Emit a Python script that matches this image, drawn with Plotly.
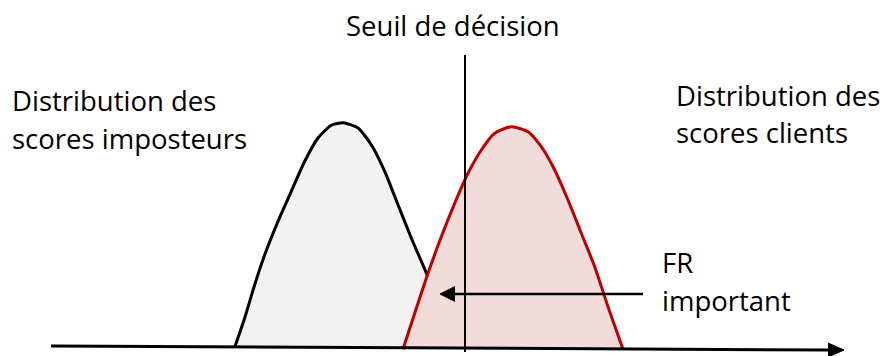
import plotly.graph_objects as go

# --- diagram data (pixel space of the 888x356 picture, y downwards) ---
imposteurs_x = [234.7, 244.7, 254.7, 264.7, 278, 291.3, 304.7, 318, 331.3, 343,
                358, 371.3, 384.7, 398, 411.3, 426.3, 438, 449.7]
imposteurs_y = [347.3, 318, 284.7, 254.7, 221.3, 191.3, 161.3, 138, 125.3, 122.7,
                128, 144.7, 171.3, 204.7, 238, 273, 305, 347]

clients_x = [403, 414.7, 428, 441.3, 454.7, 468, 481.3, 494.7, 511.3, 528,
             541.3, 554.7, 568, 581.3, 594.7, 608, 623]
clients_y = [349.3, 313.3, 273.3, 236.7, 203.3, 173.3, 150, 133.3, 126.7, 131.7,
             146.7, 170, 200, 233.3, 266.7, 306.7, 349.3]

axis_x = [51, 830]
axis_y = [346, 350]
axis_head_x = [828, 844, 828]
axis_head_y = [343, 350, 357]

seuil_x = [465, 465]
seuil_y = [55, 352]

fr_x = [643, 452]
fr_y = [294, 294]
fr_head_x = [455, 440, 455]
fr_head_y = [286.5, 294, 301.5]

labels = [
    ("Seuil de décision", 453, 25, "center"),
    ("Distribution des", 9.5, 100, "left"),
    ("scores imposteurs", 9.5, 138, "left"),
    ("Distribution des", 674, 95, "left"),
    ("scores clients", 674, 132, "left"),
    ("FR", 660, 262, "left"),
    ("important", 660, 300, "left"),
]

FONT = "Open Sans, Carlito, Calibri, sans-serif"
PAGE_OFFSET = 8  # default body margin of the html page

fig = go.Figure()

# impostor distribution (grey)
fig.add_trace(go.Scatter(
    x=imposteurs_x, y=imposteurs_y, mode="lines", fill="toself",
    fillcolor="#f2f2f2", line=dict(color="black", width=3, shape="spline", smoothing=0.6),
    hoverinfo="skip"))

# client distribution (red)
fig.add_trace(go.Scatter(
    x=clients_x, y=clients_y, mode="lines", fill="toself",
    fillcolor="#f2dcdb", line=dict(color="#c00000", width=3, shape="spline", smoothing=0.6),
    hoverinfo="skip"))

# threshold line
fig.add_trace(go.Scatter(x=seuil_x, y=seuil_y, mode="lines",
                         line=dict(color="black", width=2), hoverinfo="skip"))

# FR arrow
fig.add_trace(go.Scatter(x=fr_x, y=fr_y, mode="lines",
                         line=dict(color="black", width=2.5), hoverinfo="skip"))
fig.add_trace(go.Scatter(x=fr_head_x, y=fr_head_y, mode="lines", fill="toself",
                         fillcolor="black", line=dict(color="black", width=1), hoverinfo="skip"))

# score axis
fig.add_trace(go.Scatter(x=axis_x, y=axis_y, mode="lines",
                         line=dict(color="black", width=3), hoverinfo="skip"))
fig.add_trace(go.Scatter(x=axis_head_x, y=axis_head_y, mode="lines", fill="toself",
                         fillcolor="black", line=dict(color="black", width=1), hoverinfo="skip"))

for text, x, y, anchor in labels:
    fig.add_annotation(x=x, y=y, text=text, showarrow=False, xanchor=anchor, yanchor="middle",
                       font=dict(family=FONT, size=27.5, color="black"))

fig.update_layout(
    width=888, height=356, margin=dict(l=0, r=0, t=0, b=0),
    paper_bgcolor="white", plot_bgcolor="white", showlegend=False,
    xaxis=dict(range=[PAGE_OFFSET, 888 + PAGE_OFFSET], visible=False, fixedrange=True),
    yaxis=dict(range=[356 + PAGE_OFFSET, PAGE_OFFSET], visible=False, fixedrange=True),
)

fig.write_html("out.html")
